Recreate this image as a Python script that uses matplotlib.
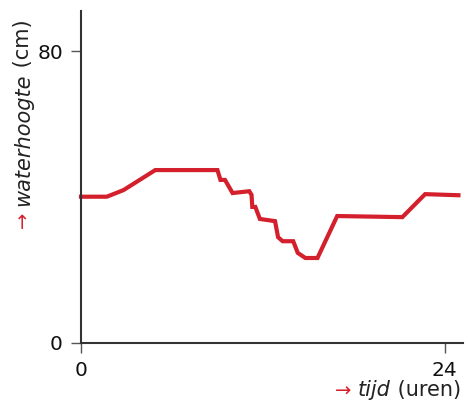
import matplotlib
matplotlib.use("Agg")
import matplotlib.pyplot as plt

# tijd (uren) en waterhoogte (cm)
tijd = [0.0, 1.7, 2.8, 4.9, 9.0, 9.2, 9.5, 10.0, 11.1, 11.25, 11.3, 11.5, 11.8,
        12.8, 13.0, 13.3, 14.0, 14.3, 14.8, 15.6, 16.9, 21.2, 22.7, 24.9]
hoogte = [40.1, 40.1, 41.9, 47.4, 47.4, 44.7, 44.7, 41.1, 41.6, 40.6, 37.3, 37.3, 34.0,
          33.4, 29.0, 27.9, 27.9, 24.7, 23.3, 23.3, 34.8, 34.5, 40.8, 40.5]

xticks = [0, 24]
yticks = [0, 80]

W, H = 469, 401
fig = plt.figure(figsize=(W / 100, H / 100), dpi=100)
ax = fig.add_axes([81 / W, 58 / H, (463 - 81) / W, (343 - 11) / H])

ax.plot(tijd, hoogte, color="#d41f2d", lw=3, solid_joinstyle="miter", clip_on=False)

ax.set_xlim(0, 25.2)
ax.set_ylim(0, 91)
ax.set_xticks(xticks)
ax.set_yticks(yticks)
ax.tick_params(labelsize=14.5, length=7, width=1, pad=6, color="#555555",
               labelcolor="#111111")
for s in ["top", "right"]:
    ax.spines[s].set_visible(False)
for s in ["left", "bottom"]:
    ax.spines[s].set_color("#333333")
    ax.spines[s].set_linewidth(1.5)

# x-as label: rode pijl + cursief + normaal
t1 = fig.text(335 / W, 1 - 390 / H, "\u2192 ", color="#d41f2d", fontsize=14,
              ha="left", va="center")
t2 = ax.annotate("tijd", xy=(1, 0.5), xycoords=t1, ha="left", va="center",
                 fontsize=15, style="italic", color="#222222")
t3 = ax.annotate(" (uren)", xy=(1, 0.5), xycoords=t2, ha="left", va="center",
                 fontsize=15, color="#222222")

# y-as label, gedraaid
u1 = fig.text(23 / W, 1 - 229 / H, "\u2192 ", color="#d41f2d", fontsize=14,
              rotation=90, ha="center", va="bottom")
u2 = ax.annotate("waterhoogte", xy=(0.5, 1), xycoords=u1, ha="center", va="bottom",
                 rotation=90, fontsize=15, style="italic", color="#222222")
u3 = ax.annotate(" (cm)", xy=(0.5, 1), xycoords=u2, ha="center", va="bottom",
                 rotation=90, fontsize=15, color="#222222")

fig.savefig("out.png", dpi=100)
